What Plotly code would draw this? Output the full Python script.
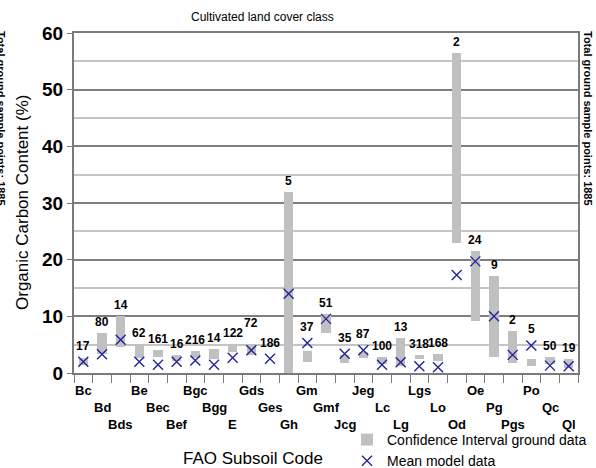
import plotly.graph_objects as go

categories = ["Bc", "Bd", "Bds", "Be", "Bec", "Bef", "Bgc", "Bgg", "E", "Gds", "Ges", "Gh",
              "Gm", "Gmf", "Jcg", "Jeg", "Lc", "Lg", "Lgs", "Lo", "Od", "Oe", "Pg", "Pgs",
              "Po", "Qc", "Ql"]
ci_low = [1.45, 3.3, 4.55, 2.7, 2.9, 2.1, 2.7, 2.5, 3.7, 3.1, None, 0.0,
          1.9, 7.1, 1.8, 2.6, 1.6, 1.3, 2.4, 2.2, 23.0, 9.25, 2.9, 1.8,
          1.2, 1.6, 0.9]
ci_high = [2.6, 7.0, 10.1, 5.15, 4.0, 3.1, 3.8, 4.15, 5.15, 5.15, None, 32.0,
           3.85, 10.45, 3.1, 3.7, 2.8, 6.2, 3.1, 3.4, 56.5, 21.5, 17.2, 7.4,
           2.4, 2.8, 2.4]
mean_model = [2.0, 3.3, 5.85, 2.0, 1.45, 2.0, 2.2, 1.45, 2.7, 4.0, 2.5, 14.0,
              5.3, 9.55, 3.4, 4.0, 1.45, 1.9, 1.2, 1.0, 17.3, 19.7, 10.0, 3.2,
              4.85, 1.3, 1.2]
sample_counts = [17, 80, 14, 62, 161, 16, 216, 14, 122, 72, 186, 5,
                 37, 51, 35, 87, 100, 13, 318, 168, 2, 24, 9, 2,
                 5, 50, 19]
total_points = 1885

FONT = "Liberation Sans, Arial, sans-serif"
idx = list(range(len(categories)))

heights = [(h - l) if (h is not None and l is not None) else None
           for l, h in zip(ci_low, ci_high)]

fig = go.Figure()
fig.add_trace(go.Bar(
    x=idx, y=heights, base=ci_low, width=0.5,
    marker=dict(color="#c0c0c0", line=dict(width=0)),
    name="Confidence Interval ground data",
))
fig.add_trace(go.Scatter(
    x=idx, y=mean_model, mode="markers",
    marker=dict(symbol="x-thin", size=10, line=dict(width=1.4, color="#23239c"), color="#23239c"),
    name="Mean model data",
))

def px_x(p):
    return (p - 74) / 504

def px_y(p):
    return (373 - p) / 340

annotations = []
# count labels
extra_shift = {"Gds": 10}
for i, (c, n, h, m) in enumerate(zip(categories, sample_counts, ci_high, mean_model)):
    top = max(h if h is not None else 0, m + 0.9)
    annotations.append(dict(
        x=i, y=top, xref="x", yref="y", text=str(n), showarrow=False,
        xanchor="center", yanchor="bottom", yshift=2 + extra_shift.get(c, 0),
        font=dict(family=FONT, size=12, color="black", weight="bold"),
    ))
# staggered category labels
for i, c in enumerate(categories):
    row = i % 3
    annotations.append(dict(
        x=i, y=0, xref="x", yref="paper", text=c, showarrow=False,
        xanchor="center", yanchor="middle", yshift=-17 - 17 * row,
        font=dict(family=FONT, size=13, color="black", weight="bold"),
    ))
# titles
annotations += [
    dict(x=px_x(262), y=px_y(17), xref="paper", yref="paper",
         text="Cultivated land cover class", showarrow=False,
         xanchor="center", yanchor="middle",
         font=dict(family=FONT, size=12, color="black")),
    dict(x=px_x(22), y=px_y(203), xref="paper", yref="paper",
         text="Organic Carbon Content (%)", showarrow=False, textangle=-90,
         xanchor="center", yanchor="middle",
         font=dict(family=FONT, size=17, color="black")),
    dict(x=px_x(253), y=px_y(458), xref="paper", yref="paper",
         text="FAO Subsoil Code", showarrow=False,
         xanchor="center", yanchor="middle",
         font=dict(family=FONT, size=17, color="black")),
    dict(x=px_x(588), y=px_y(118), xref="paper", yref="paper",
         text=f"Total ground sample points: {total_points}", showarrow=False, textangle=90,
         xanchor="center", yanchor="middle",
         font=dict(family=FONT, size=11, color="black", weight="bold")),
    dict(x=px_x(1), y=px_y(118), xref="paper", yref="paper",
         text=f"Total ground sample points: {total_points}", showarrow=False, textangle=90,
         xanchor="center", yanchor="middle",
         font=dict(family=FONT, size=11, color="black", weight="bold")),
]

fig.update_layout(
    width=596, height=468,
    margin=dict(l=74, r=18, t=33, b=95, autoexpand=False),
    paper_bgcolor="white", plot_bgcolor="white",
    showlegend=True,
    legend=dict(x=px_x(347), y=px_y(424), xanchor="left", yanchor="top",
                font=dict(family=FONT, size=14, color="black"),
                bgcolor="rgba(0,0,0,0)", tracegroupgap=0, itemwidth=30),
    annotations=annotations,
    bargap=0,
)
fig.update_xaxes(
    range=[-0.5, len(categories) - 0.5], showticklabels=False,
    tickvals=idx, ticks="", showgrid=False, zeroline=False,
    showline=True, linecolor="#7a7a7a", linewidth=2, mirror=True,
    minor=dict(tick0=-0.5, dtick=1, ticks="outside", ticklen=8, tickwidth=1,
               tickcolor="#7a7a7a", showgrid=False),
)
fig.update_yaxes(
    range=[0, 60], dtick=10, tick0=0, ticks="outside", ticklen=5, tickwidth=1,
    tickcolor="#7a7a7a",
    showgrid=True, gridcolor="#7f7f7f", gridwidth=1.5, zeroline=False,
    showline=True, linecolor="#7a7a7a", linewidth=2, mirror=True,
    tickfont=dict(family=FONT, size=19, color="black", weight="bold"),
    minor=dict(dtick=5, showgrid=True, gridcolor="#c4c4c4", gridwidth=1.5, ticks=""),
)

fig.write_html("out.html")
